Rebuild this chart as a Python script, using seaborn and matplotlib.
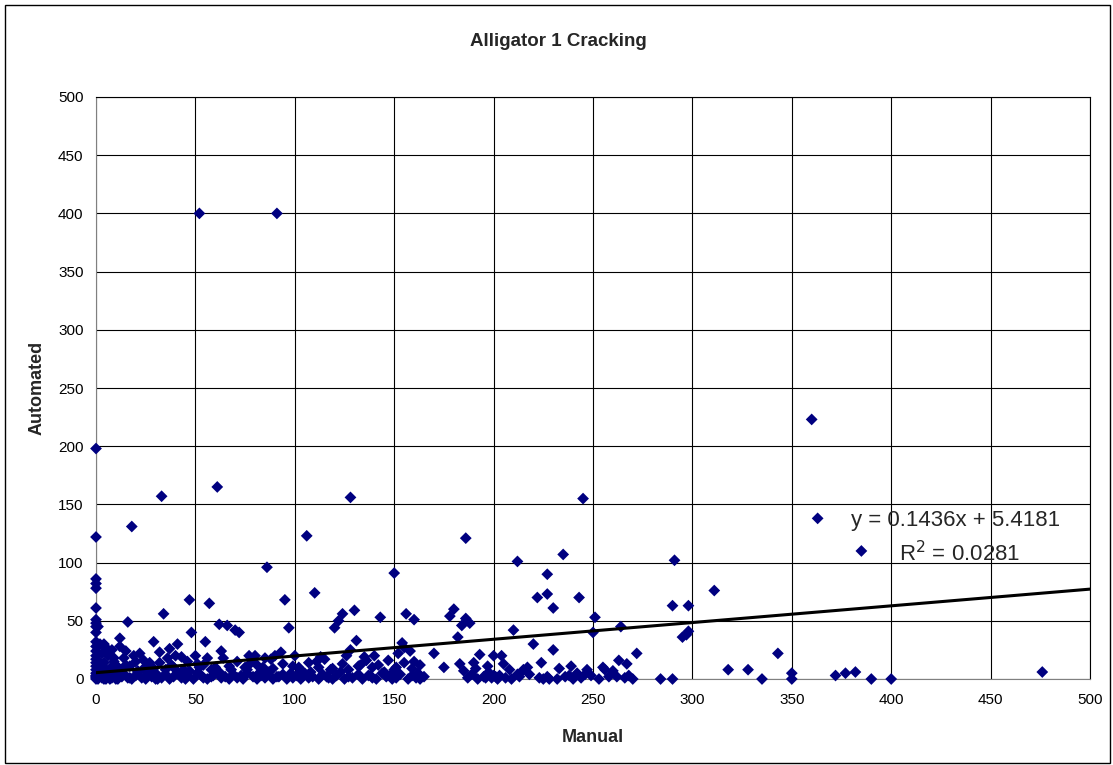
import numpy as np
import pandas as pd
import matplotlib
matplotlib.use("Agg")
import matplotlib.pyplot as plt
import seaborn as sns
from matplotlib.patches import Rectangle

# ---- data ----
manual_main = [
    0, 0, 0, 0, 0, 0, 0, 0, 0, 0, 0, 0, 0, 0, 0, 0, 0, 0, 0, 0, 0, 0,
    2, 3, 4, 5, 6, 7, 8, 9, 10, 2, 3, 5, 6, 8, 9, 1, 4, 10, 7, 3,
    12, 12, 14, 16, 18, 15, 13, 11, 17, 19, 20, 22, 24, 26, 27, 29, 30, 31, 32, 33,
    34, 36, 38, 40, 41, 42, 44, 45, 46, 47, 48, 50, 52, 53, 55, 56, 57, 58, 60, 61,
    62, 64, 66, 68, 70, 72, 73, 75, 77, 78, 80, 82, 84, 86, 88, 90, 92, 93, 95, 97,
    98, 100, 102, 104, 106, 108, 110, 111, 113, 116, 118, 120, 122, 124, 126, 128, 128, 130,
    131, 133, 136, 138, 140, 143, 145, 148, 150, 150, 152, 154, 155, 156, 158, 160, 160, 162, 165,
    170, 175, 178, 180, 182, 183, 184, 186, 186, 188, 185, 190, 193, 196, 197, 200, 201, 200, 204,
    210, 212, 212, 215, 220, 222, 225, 227, 227, 227, 230, 230, 232, 235, 238, 242, 243, 245, 246,
    250, 251, 255, 256, 262, 263, 264, 267, 268, 272, 284, 290, 290, 291, 295, 297, 298, 298,
    311, 318, 328, 335, 343, 350, 350, 360, 363, 372, 377, 382, 385, 390, 400, 476,
    52, 91,
]
automated_main = [
    198, 122, 86, 82, 78, 61, 51, 48, 45, 40, 32, 28, 24, 20, 17, 14, 11, 8, 5, 3, 1, 0,
    30, 22, 14, 8, 3, 0, 25, 18, 12, 5, 2, 0, 20, 10, 4, 45, 30, 0, 6, 9,
    35, 28, 18, 49, 131, 12, 6, 3, 1, 20, 15, 22, 9, 4, 14, 32, 5, 0, 23, 157,
    56, 18, 12, 20, 30, 4, 8, 0, 15, 68, 40, 20, 10, 3, 32, 18, 65, 2, 10, 165,
    47, 18, 46, 8, 42, 40, 3, 10, 20, 14, 20, 5, 10, 96, 17, 20, 2, 23, 68, 44,
    5, 20, 10, 2, 123, 6, 74, 15, 19, 2, 8, 44, 50, 56, 20, 156, 25, 59,
    33, 12, 16, 3, 20, 53, 6, 3, 91, 8, 22, 31, 27, 56, 24, 51, 15, 5, 2,
    22, 10, 54, 60, 36, 13, 46, 121, 52, 48, 7, 14, 21, 1, 5, 3, 2, 20, 20,
    42, 101, 4, 8, 30, 70, 0, 90, 73, 2, 61, 25, 0, 107, 3, 5, 70, 155, 4,
    40, 53, 10, 8, 2, 16, 45, 13, 3, 22, 0, 0, 63, 102, 36, 38, 41, 63,
    76, 8, 8, 0, 22, 5, 0, 223, 138, 3, 5, 6, 110, 0, 0, 6,
    400, 400,
]

manual_band = [
    0, 1, 2, 3, 4, 6, 8, 10, 11, 13, 14, 16, 18, 20, 21, 23, 25, 27, 28, 30,
    33, 35, 37, 39, 41, 43, 46, 49, 51, 54, 56, 59, 62, 63, 65, 67, 69, 71, 74, 76,
    79, 81, 83, 85, 87, 89, 91, 94, 96, 99, 101, 103, 105, 107, 109, 112, 114, 117, 119, 121,
    123, 125, 127, 129, 132, 134, 137, 139, 141, 144, 146, 149, 151, 153, 157, 159, 161, 163,
    187, 189, 192, 195, 198, 199, 202, 203, 206, 209, 213, 218, 223, 228, 236, 240, 244, 249,
    253, 258, 266, 270,
]
automated_band = [
    2, 0, 4, 1, 0, 3, 1, 6, 0, 2, 4, 1, 0, 3, 6, 1, 0, 5, 2, 0,
    1, 4, 0, 2, 6, 1, 3, 0, 5, 1, 0, 3, 6, 1, 2, 0, 4, 1, 0, 5,
    2, 0, 3, 1, 6, 0, 2, 4, 0, 1, 3, 0, 5, 1, 2, 0, 4, 1, 0, 3,
    6, 0, 2, 1, 4, 0, 3, 1, 0, 5, 2, 0, 1, 4, 0, 3, 1, 0,
    1, 4, 0, 2, 5, 1, 0, 3, 1, 0, 2, 4, 1, 0, 2, 0, 1, 3,
    0, 2, 1, 0,
]

manual_mid = [
    1, 3, 5, 7, 9, 12, 15, 17, 21, 24, 26, 29, 32, 35, 37, 39, 43, 47, 51, 54,
    58, 63, 67, 71, 76, 81, 85, 89, 94, 99, 103, 107, 112, 115, 119, 124, 127, 132, 135, 139,
    142, 147, 151, 155, 159, 163, 191, 197, 205, 208, 217, 224, 233, 239, 247, 260,
]
automated_mid = [
    16, 12, 27, 9, 15, 8, 24, 11, 7, 16, 12, 9, 14, 8, 26, 10, 19, 7, 13, 12,
    8, 24, 11, 15, 8, 12, 18, 9, 13, 11, 7, 14, 10, 17, 9, 13, 8, 11, 19, 10,
    12, 16, 10, 14, 9, 12, 9, 11, 13, 8, 10, 14, 9, 11, 8, 7,
]

slope = 0.1436
intercept = 5.4181
r_squared = 0.0281
x_ticks = [0, 50, 100, 150, 200, 250, 300, 350, 400, 450, 500]
y_ticks = [0, 50, 100, 150, 200, 250, 300, 350, 400, 450, 500]

df = pd.DataFrame({
    "Manual": manual_main + manual_band + manual_mid,
    "Automated": automated_main + automated_band + automated_mid,
})

sns.set_style("white")
plt.rcParams["font.family"] = ["Liberation Sans", "DejaVu Sans"]

fig = plt.figure(figsize=(11.13, 7.65), dpi=100)
ax = fig.add_axes([96 / 1113, 1 - 679 / 765, (1090 - 96) / 1113, (679 - 97) / 765])

# outer chart border
fig.patches.append(Rectangle((5 / 1113, 2 / 765), 1105 / 1113, 758 / 765,
                             transform=fig.transFigure, fill=False,
                             edgecolor="black", linewidth=1.0))

sns.scatterplot(data=df, x="Manual", y="Automated", ax=ax, marker="D",
                color="#000080", edgecolor="none", s=36, zorder=3,
                legend=False, clip_on=False)

xs = np.array([x_ticks[0], x_ticks[-1]])
sns.lineplot(x=xs, y=slope * xs + intercept, ax=ax, color="black",
             linewidth=2.2, zorder=4)

ax.set_xlim(0, 500)
ax.set_ylim(0, 500)
ax.set_xticks(x_ticks)
ax.set_yticks(y_ticks)
ax.set_xticklabels([str(t) for t in x_ticks])
ax.set_yticklabels([str(t) for t in y_ticks])
ax.tick_params(axis="both", labelsize=11, length=4, width=0.8, colors="black",
               direction="out")
ax.tick_params(axis="x", pad=6)
ax.tick_params(axis="y", pad=5)
ax.grid(True, color="black", linewidth=0.8)
ax.set_axisbelow(True)
for sp in ax.spines.values():
    sp.set_visible(True)
    sp.set_color("black")
    sp.set_linewidth(0.8)
ax.spines["left"].set_color("#808080")
ax.spines["bottom"].set_color("#808080")

ax.set_xlabel("Manual", fontsize=13, fontweight="bold", labelpad=16)
ax.set_ylabel("Automated", fontsize=13, fontweight="bold", labelpad=9)

fig.text(558 / 1113, 1 - 41 / 765, "Alligator 1 Cracking", ha="center",
         va="center", fontsize=13.5, fontweight="bold")

ax.text(380, 136, f"y = {slope}x + {intercept}", fontsize=16, va="center",
        ha="left", zorder=5)
ax.text(404, 108, f"R$^2$ = {r_squared}", fontsize=16, va="center",
        ha="left", zorder=5)

fig.savefig("out.png", dpi=100)
